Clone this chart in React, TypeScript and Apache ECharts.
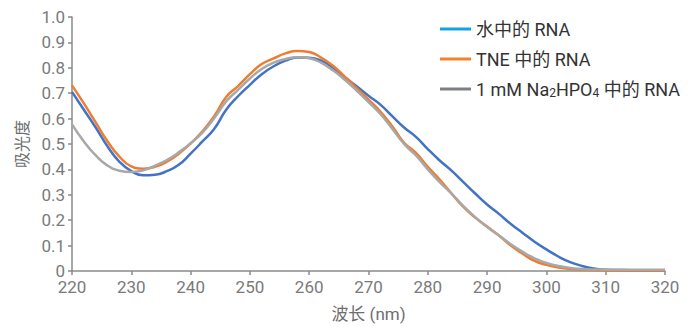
import React, { useEffect, useRef } from "react";
import * as echarts from "echarts";

const wavelengths = [
  220, 222, 224, 226, 228, 230, 232, 234, 236, 238, 240, 242, 244, 246, 248, 250, 252, 254, 256, 258,
  260, 262, 264, 266, 268, 270, 272, 274, 276, 278, 280, 282, 284, 286, 288, 290, 292, 294, 296, 298,
  300, 302, 304, 306, 308, 310, 312, 314, 316, 318, 320,
];

const waterRNA = [
  0.705, 0.635, 0.565, 0.49, 0.43, 0.393, 0.377, 0.379, 0.393, 0.418, 0.462, 0.51, 0.56, 0.635, 0.688, 0.733, 0.775, 0.806, 0.828, 0.841,
  0.84, 0.828, 0.8, 0.763, 0.727, 0.69, 0.655, 0.61, 0.565, 0.528, 0.48, 0.435, 0.395, 0.35, 0.305, 0.262, 0.225, 0.185, 0.15, 0.115,
  0.085, 0.057, 0.035, 0.02, 0.01, 0.005, 0.004, 0.003, 0.003, 0.003, 0.003,
];

const tneRNA = [
  0.731, 0.66, 0.585, 0.51, 0.45, 0.412, 0.403, 0.41, 0.43, 0.462, 0.502, 0.55, 0.61, 0.685, 0.728, 0.775, 0.815, 0.837, 0.857, 0.866,
  0.862, 0.84, 0.808, 0.765, 0.72, 0.675, 0.628, 0.57, 0.505, 0.465, 0.41, 0.36, 0.305, 0.252, 0.21, 0.175, 0.14, 0.1, 0.068, 0.04,
  0.024, 0.014, 0.008, 0.005, 0.003, 0.002, 0.002, 0.002, 0.002, 0.002, 0.002,
];

const phosphateRNA = [
  0.577, 0.51, 0.455, 0.415, 0.395, 0.39, 0.396, 0.415, 0.437, 0.467, 0.503, 0.545, 0.602, 0.668, 0.713, 0.758, 0.795, 0.82, 0.835, 0.842,
  0.838, 0.82, 0.79, 0.753, 0.71, 0.665, 0.618, 0.56, 0.5, 0.455, 0.4, 0.35, 0.305, 0.255, 0.212, 0.173, 0.14, 0.105, 0.075, 0.05,
  0.032, 0.02, 0.012, 0.008, 0.006, 0.005, 0.005, 0.005, 0.005, 0.005, 0.005,
];

const seriesNames = ["水中的 RNA", "TNE 中的 RNA", "1 mM Na2HPO4 中的 RNA"];
const legendLabels: Record<string, string> = {
  "水中的 RNA": "水中的 RNA",
  "TNE 中的 RNA": "TNE 中的 RNA",
  "1 mM Na2HPO4 中的 RNA": "1 mM Na{sub|2}HPO{sub|4} 中的 RNA",
};

const FONT = "Roboto, 'Noto Sans CJK SC', sans-serif";

export default function App() {
  const ref = useRef<HTMLDivElement>(null);

  useEffect(() => {
    if (!ref.current) return;
    const chart = echarts.init(ref.current, undefined, { renderer: "svg" });
    const pair = (vals: number[]) => wavelengths.map((w, i) => [w, vals[i]]);
    chart.setOption({
      animation: false,
      textStyle: { fontFamily: FONT },
      grid: { left: 72, right: 34, top: 17, bottom: 51 },
      legend: {
        orient: "vertical",
        left: 435,
        top: 14,
        icon: "rect",
        itemWidth: 31,
        itemHeight: 3,
        itemGap: 10,
        textStyle: {
          fontFamily: FONT,
          fontSize: 18,
          color: "#333333",
          lineHeight: 20,
          rich: {
            sub: { fontSize: 12, lineHeight: 8, verticalAlign: "bottom", color: "#333333", fontFamily: FONT },
          },
        },
        formatter: (name: string) => legendLabels[name] ?? name,
        data: [
          { name: seriesNames[0], itemStyle: { color: "#12A3E3" } },
          { name: seriesNames[1], itemStyle: { color: "#F5812A" } },
          { name: seriesNames[2], itemStyle: { color: "#7D7F86" } },
        ],
      },
      xAxis: {
        type: "value",
        min: 220,
        max: 320,
        interval: 10,
        name: "波长 (nm)",
        nameLocation: "middle",
        nameGap: 34,
        nameTextStyle: { fontSize: 17, color: "#6e6e6e", fontFamily: FONT },
        axisLine: { show: true, lineStyle: { color: "#8a8a8a", width: 1.5 } },
        axisTick: { show: true, length: 4, lineStyle: { color: "#8a8a8a", width: 1.5 } },
        axisLabel: { fontSize: 17, color: "#7a7a7a", margin: 9, lineHeight: 14, fontFamily: FONT },
        splitLine: { show: false },
      },
      yAxis: {
        type: "value",
        min: 0,
        max: 1,
        interval: 0.1,
        name: "吸光度",
        nameLocation: "middle",
        nameGap: 42,
        nameTextStyle: { fontSize: 16, color: "#6e6e6e", fontFamily: FONT },
        axisLine: { show: true, lineStyle: { color: "#8a8a8a", width: 1.5 } },
        axisTick: { show: true, length: 4, lineStyle: { color: "#8a8a8a", width: 1.5 } },
        axisLabel: {
          fontSize: 17,
          color: "#7a7a7a",
          margin: 7,
          lineHeight: 12,
          fontFamily: FONT,
          formatter: (v: number) => (v === 0 ? "0" : v.toFixed(1)),
        },
        splitLine: { show: false },
      },
      series: [
        {
          name: seriesNames[0],
          type: "line",
          data: pair(waterRNA),
          smooth: true,
          symbol: "none",
          lineStyle: { color: "#4472C4", width: 2.5 },
          itemStyle: { color: "#4472C4" },
        },
        {
          name: seriesNames[1],
          type: "line",
          data: pair(tneRNA),
          smooth: true,
          symbol: "none",
          lineStyle: { color: "#ED7D31", width: 2.5 },
          itemStyle: { color: "#ED7D31" },
        },
        {
          name: seriesNames[2],
          type: "line",
          data: pair(phosphateRNA),
          smooth: true,
          symbol: "none",
          lineStyle: { color: "#A8A8A8", width: 2.5 },
          itemStyle: { color: "#A8A8A8" },
        },
      ],
    });
    return () => chart.dispose();
  }, []);

  return (
    <div
      ref={ref}
      style={{ position: "fixed", left: 0, top: 0, width: 699, height: 327, background: "#ffffff" }}
    />
  );
}
